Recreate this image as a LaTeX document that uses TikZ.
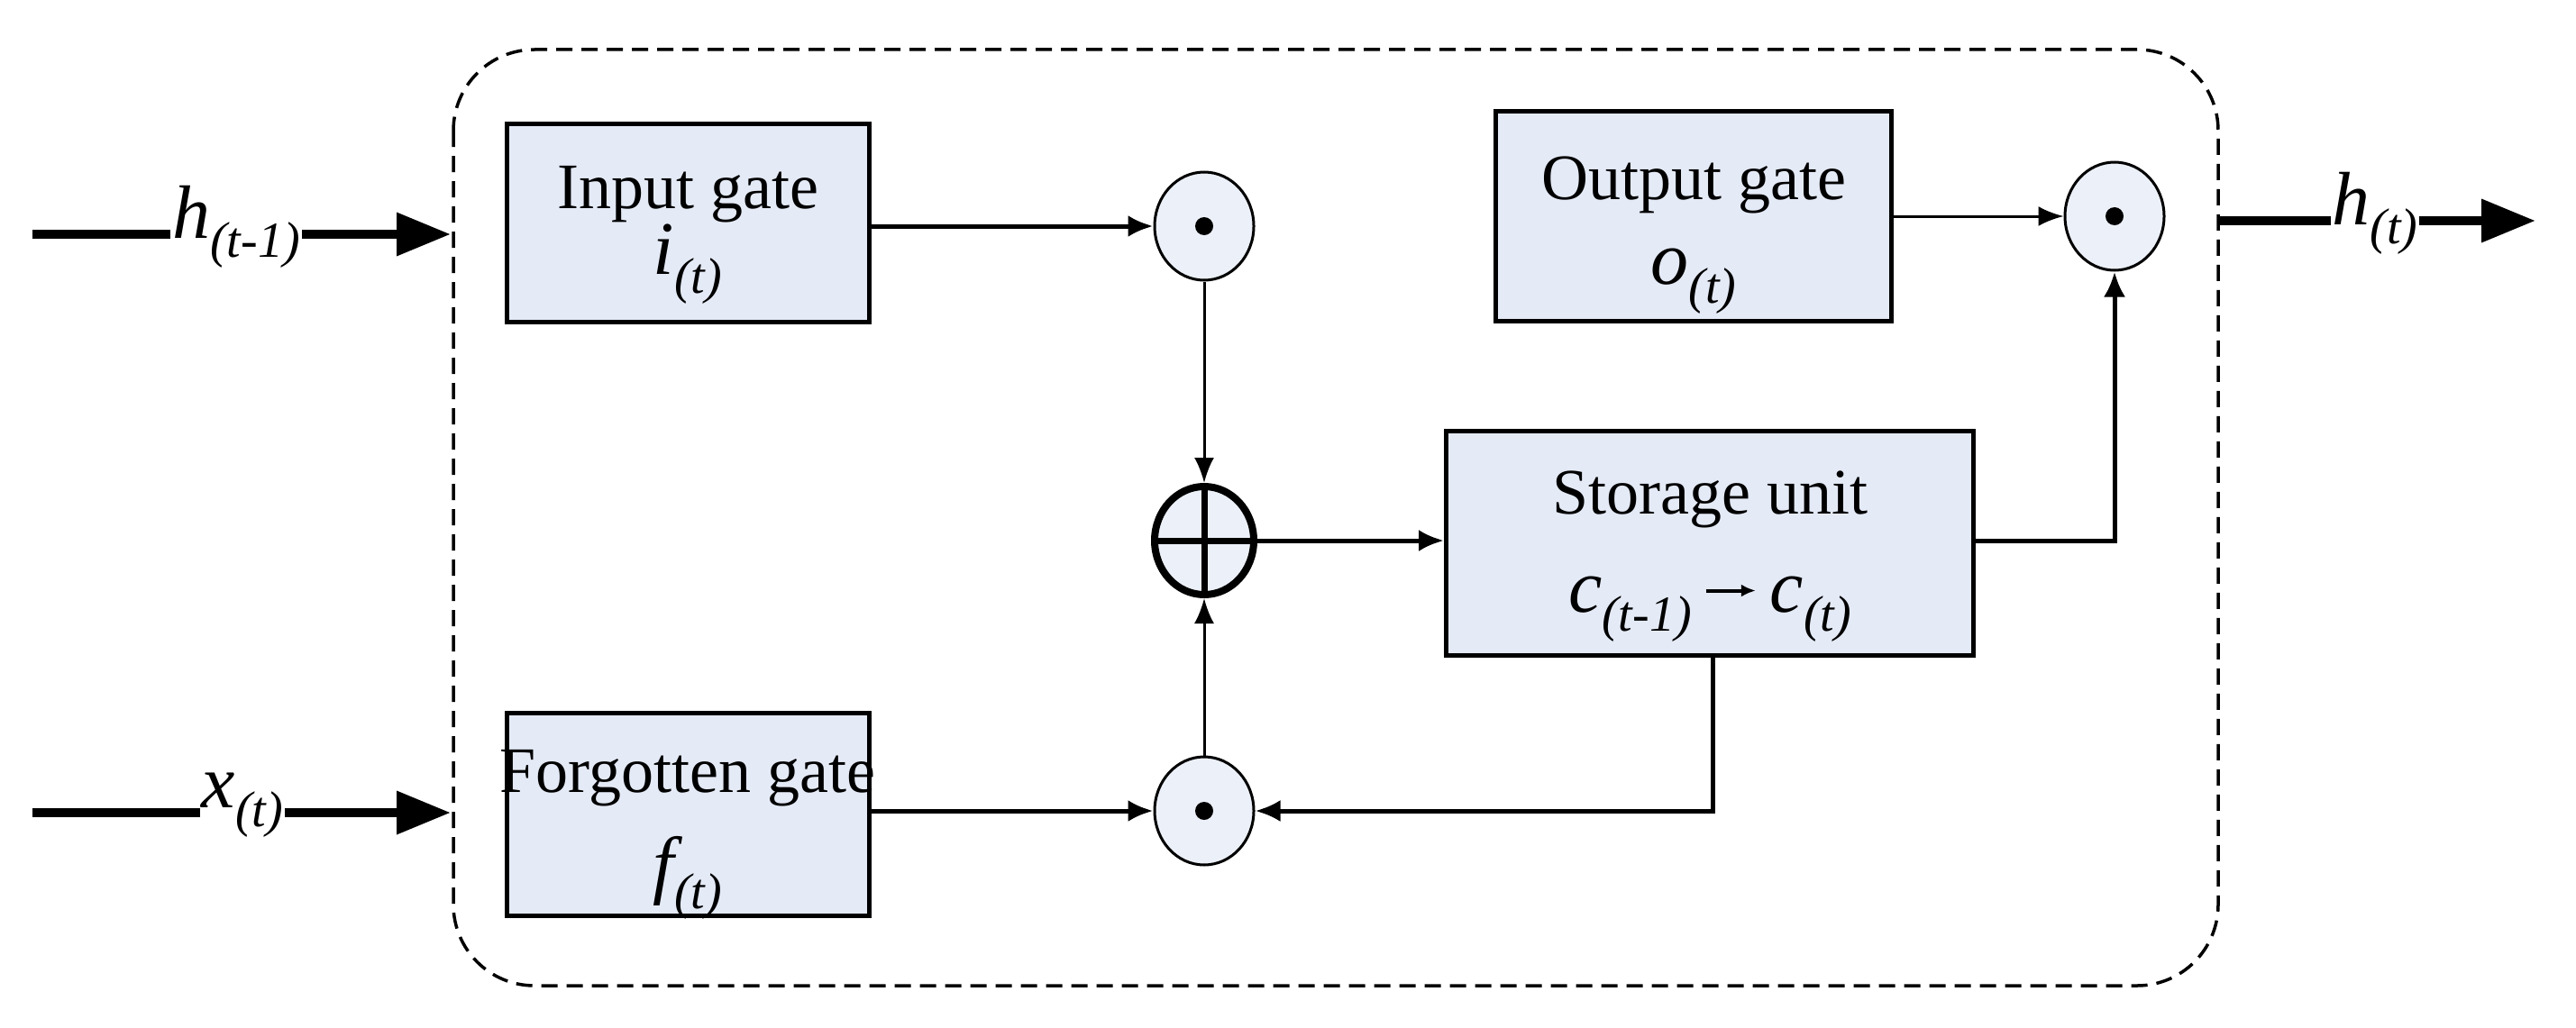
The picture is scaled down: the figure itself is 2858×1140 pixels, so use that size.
\documentclass[tikz,border=0pt]{standalone}
\usepackage{fontspec}
\setmainfont{Liberation Serif}
\usetikzlibrary{arrows.meta,shapes.geometric}
\begin{document}
\begin{tikzpicture}[x=1pt,y=-1pt,
  box/.style={draw,line width=5pt,fill={rgb,255:red,228;green,234;blue,246},inner sep=0},
  op/.style={draw,line width=3pt,ellipse,minimum width=110pt,minimum height=120pt,inner sep=0,fill={rgb,255:red,236;green,240;blue,248}},
  conn/.style={line width=5pt,-{Latex[length=28pt,width=24pt]}},
  thin/.style={line width=3pt,-{Latex[length=28pt,width=22pt]}},
  big/.style={line width=10pt,-{Triangle[length=60pt,width=46pt]}},
  lbl/.style={fill=white,inner sep=2pt,font=\fontsize{84}{96}\selectfont\itshape},
  txt/.style={font=\fontsize{72}{86}\selectfont},
  mth/.style={font=\fontsize{84}{96}\selectfont\itshape}]
\useasboundingbox (0,0) rectangle (2858,1140);
\draw[line width=3.5pt,dash pattern=on 18pt off 10pt,rounded corners=90pt] (503,55) rectangle (2461,1094);
% boxes
\node[box,minimum width=402pt,minimum height=220pt] (ig) at (763,247) {};
\node[txt] at (763,216) {Input gate};
\node[mth] at (763,293) {i\raisebox{-0.25em}{\fontsize{56}{64}\selectfont(t)}};
\node[box,minimum width=402pt,minimum height=225pt] (fg) at (763,904) {};
\node[txt] at (763,864) {Forgotten gate};
\node[mth] at (763,974) {f\raisebox{-0.25em}{\fontsize{56}{64}\selectfont(t)}};
\node[box,minimum width=439pt,minimum height=233pt] (og) at (1879,240) {};
\node[txt] at (1879,205) {Output gate};
\node[mth] at (1879,312) {o\raisebox{-0.25em}{\fontsize{56}{64}\selectfont(t)}};
\node[box,minimum width=585pt,minimum height=249pt] (su) at (1897,603) {};
\node[txt] at (1897,554) {Storage unit};
\node[mth] at (1897,676) {c\raisebox{-0.25em}{\fontsize{56}{64}\selectfont(t-1)}\,\raisebox{0.2em}{\tikz[x=1pt,y=1pt]\draw[line width=4pt,-{Latex[length=16pt,width=14pt]}](0,0)--(55,0);}\,c\raisebox{-0.25em}{\fontsize{56}{64}\selectfont(t)}};
% operators
\node[op] (m1) at (1336,251) {};
\fill (m1) circle (10pt);
\node[op] (m2) at (1336,900) {};
\fill (m2) circle (10pt);
\node[op] (m3) at (2346,240) {};
\fill (m3) circle (10pt);
\node[op,line width=8pt] (pl) at (1336,600) {};
\draw[line width=7pt] (pl.north) -- (pl.south) (pl.west) -- (pl.east);
% connectors
\draw[conn] (ig.east |- m1) -- (m1);
\draw[conn] (fg.east |- m2) -- (m2);
\draw[thin] (og.east |- m3) -- (m3);
\draw[thin] (m1) -- (pl);
\draw[thin] (m2) -- (pl);
\draw[conn] (pl) -- (su.west |- pl);
\draw[conn] (su.east |- pl) -| (m3);
\coordinate (fb) at (1900,900);
\draw[conn] (su.south -| fb) -- (fb) -- (m2);
% external
\coordinate (hin) at (36,260); \coordinate (hine) at (500,260);
\coordinate (xin) at (36,902); \coordinate (xine) at (500,902);
\coordinate (hout) at (2461,245); \coordinate (houte) at (2813,245);
\draw[big] (hin) -- (hine);
\draw[big] (xin) -- (xine);
\draw[big] (hout) -- (houte);
\node[lbl] at (262,252) {h\raisebox{-0.25em}{\fontsize{56}{64}\selectfont(t-1)}};
\node[lbl] at (269,894) {x\raisebox{-0.25em}{\fontsize{56}{64}\selectfont(t)}};
\node[lbl] at (2635,237) {h\raisebox{-0.25em}{\fontsize{56}{64}\selectfont(t)}};
\end{tikzpicture}
\end{document}
